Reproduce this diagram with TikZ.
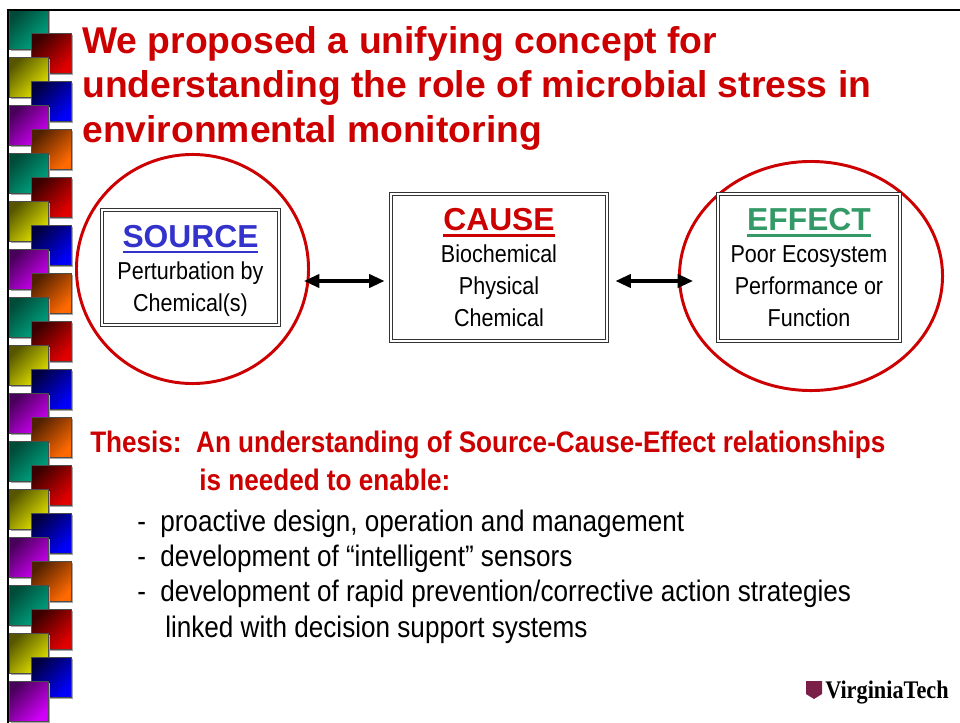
\documentclass[tikz,border=0pt]{standalone}
\usepackage{fontspec}
\setmainfont{Liberation Sans}
\newfontfamily\narrowfont{Liberation Sans}[FakeStretch=0.88]
\newfontfamily\crestfont{Liberation Serif}[FakeStretch=0.88]
\usetikzlibrary{arrows.meta, calc, shapes.geometric}

\definecolor{slidered}{HTML}{CC0000}
\definecolor{srcblue}{HTML}{3333CC}
\definecolor{effgreen}{HTML}{339966}
\definecolor{vtmaroon}{HTML}{7A1F48}
% tile colours, dark corner / bright corner
\definecolor{dktl}{HTML}{004A38} \definecolor{brtl}{HTML}{00A884}
\definecolor{dkyl}{HTML}{565600} \definecolor{bryl}{HTML}{E6E600}
\definecolor{dkpu}{HTML}{48005A} \definecolor{brpu}{HTML}{D000F8}
\definecolor{dkrd}{HTML}{380000} \definecolor{brrd}{HTML}{E00000}
\definecolor{dkbl}{HTML}{000040} \definecolor{brbl}{HTML}{0000FA}
\definecolor{dkor}{HTML}{502000} \definecolor{bror}{HTML}{FF6A00}

% heading word with a thick underline
\newcommand\headword[1]{\vtop{\hbox{#1}\kern2.2pt\hrule height 2pt}}
\newcommand\headfont{\rmfamily\fontsize{22.6pt}{22.76pt}\selectfont\bfseries}

\tikzset{
  tile/.style={draw=black!70, line width=0.4pt},
  rule/.style={line width=1.4pt},
  ring/.style={ellipse, draw=slidered, line width=2.1pt, inner sep=0pt},
  dblbox/.style={draw=black!80, double, double distance=1.4pt, line width=0.7pt,
    inner sep=0pt, align=center, font=\narrowfont\fontsize{17.4pt}{22.76pt}\selectfont},
  duplex/.style={{Triangle[length=11pt,width=9.5pt]}-{Triangle[length=11pt,width=9.5pt]},
    line width=2.4pt}
}

\begin{document}
\begin{tikzpicture}[x=0.025cm, y=-0.025cm]
\useasboundingbox (0,0) rectangle (960,723);

% staggered tiles down the left edge
\foreach \grp in {0,...,4} {
  \foreach \i/\lc/\rc in {0/tl/rd, 1/yl/bl, 2/pu/or} {
    \pgfmathtruncatemacro\k{3*\grp+\i}
    \pgfmathsetmacro\ly{9+48*\k}
    \fill[black!35] (11,\ly+2) rectangle ++(39,40);
    \shade[tile, top color=dk\lc, bottom color=br\lc, shading angle=45]
      (9,\ly) rectangle ++(39,40);
    \ifnum\k<14
      \fill[black!35] (33,\ly+26) rectangle ++(40,40);
      \shade[tile, top color=dk\rc, bottom color=br\rc, shading angle=45]
        (31,\ly+24) rectangle ++(40,40);
    \fi
  }
}

% frame
\draw[rule] (8,723) -- (8,10) -- (960,10);

% title (base = last line)
\node[anchor=base west, align=left, inner sep=0pt, text=slidered,
  font=\fontsize{26.5pt}{31.3pt}\selectfont\bfseries] (headline) at (82,142)
  {We proposed a unifying concept for\\
   understanding the role of microbial stress in\\
   environmental monitoring};

% source / cause / effect
\node[ring, minimum width=5.8cm, minimum height=5.725cm] (srcring) at (192.5,269) {};
\node[ring, minimum width=6.575cm, minimum height=5.725cm] (effring) at (811,276) {};

\node[dblbox, minimum width=4.425cm, minimum height=2.875cm] (source) at (190.5,267.5)
  {{\color{srcblue}\headfont\rule{0pt}{20.3pt}\headword{SOURCE}}\\
   Perturbation by\\ Chemical(s)};
\node[dblbox, minimum width=5.4cm, minimum height=3.675cm] (cause) at (499,267.5)
  {{\color{slidered}\headfont\headword{CAUSE}}\\
   Biochemical\\ Physical\\ Chemical};
\node[dblbox, minimum width=4.55cm, minimum height=3.675cm] (effect) at (809,267.5)
  {{\color{effgreen}\headfont\headword{EFFECT}}\\
   Poor Ecosystem\\ Performance or\\ Function};

\coordinate (lk) at ($(srcring.east)+(-6,12)$);
\draw[duplex] (lk) -- ($(cause.west |- lk)+(-6,0)$);
\draw[duplex] ($(cause.east |- lk)+(8,0)$) -- ($(effring.west |- lk)+(15,0)$);

% thesis
\node[anchor=base west, align=left, inner sep=0pt, text=slidered,
  font=\narrowfont\fontsize{21.1pt}{27pt}\selectfont\bfseries] (thesis) at (90,490)
  {Thesis:\ \ An understanding of Source-Cause-Effect relationships\\
   \hspace*{2.725cm}is needed to enable:};

\node[anchor=base west, align=left, inner sep=0pt,
  font=\narrowfont\fontsize{21.1pt}{24.9pt}\selectfont] (needs) at (137,637)
  {\makebox[0.575cm][l]{-}proactive design, operation and management\\
   \makebox[0.575cm][l]{-}development of “intelligent” sensors\\
   \makebox[0.575cm][l]{-}development of rapid prevention/corrective action strategies\\
   \hspace*{0.7cm}linked with decision support systems};

% logo
\fill[vtmaroon] (806,681) -- (822,681) -- (822,694) -- (814,699) -- (806,694) -- cycle;
\node[anchor=base west, inner sep=0pt,
  font=\crestfont\bfseries\fontsize{18pt}{18pt}\selectfont] (vtname) at (825,698)
  {VirginiaTech};
\end{tikzpicture}
\end{document}
